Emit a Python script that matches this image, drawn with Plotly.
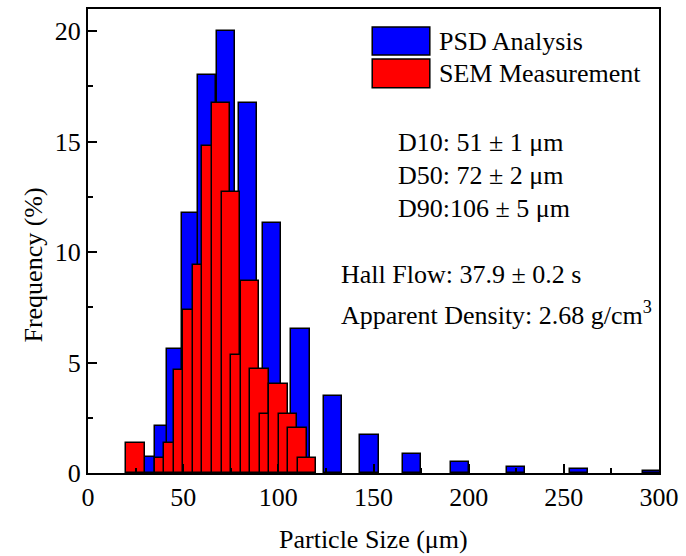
import plotly.graph_objects as go

# ---- data ----
psd_size = [34.3, 39.9, 46.4, 54.0, 62.6, 72.5, 84.0, 96.8, 111.6, 128.6,
            147.9, 170.1, 195.4, 224.8, 257.9, 296.5]
psd_freq = [0.72, 2.12, 5.63, 11.75, 18.0, 20.0, 16.75, 11.3, 6.53, 3.49,
            1.72, 0.86, 0.48, 0.28, 0.18, 0.10]

sem_size = [25, 40, 45, 50, 55, 60, 65, 70, 75, 80, 85, 90, 95, 100, 105, 110, 115]
sem_freq = [1.37, 0.66, 1.34, 4.68, 7.39, 9.42, 14.78, 16.76, 12.74, 5.36,
            8.71, 4.70, 2.69, 4.02, 2.69, 2.02, 0.66]

bin_width = 9.7

x_ticks = [0, 50, 100, 150, 200, 250, 300]
y_ticks = [0, 5, 10, 15, 20]

series_names = ["PSD Analysis", "SEM Measurement"]
stats_lines = ["D10: 51 ± 1 μm", "D50: 72 ± 2 μm", "D90:106 ± 5 μm"]
props_lines = ["Hall Flow: 37.9 ± 0.2 s", "Apparent Density: 2.68 g/cm<sup>3</sup>"]

FONT = "Liberation Serif"
FS = 26
BLUE = "#0000FF"
RED = "#FF0000"

fig = go.Figure()
fig.add_trace(go.Bar(x=psd_size, y=psd_freq, width=[bin_width] * len(psd_size),
                     marker=dict(color=BLUE, line=dict(color="black", width=1.5)),
                     name=series_names[0], showlegend=False))
fig.add_trace(go.Bar(x=sem_size, y=sem_freq, width=[bin_width] * len(sem_size),
                     marker=dict(color=RED, line=dict(color="black", width=1.5)),
                     name=series_names[1], showlegend=False))

axis_common = dict(
    showline=True, linecolor="black", linewidth=2, mirror=True,
    ticks="inside", ticklen=9, tickwidth=1.5, tickcolor="black",
    showgrid=False, zeroline=False,
    tickfont=dict(family=FONT, size=FS, color="black"),
)
fig.update_xaxes(range=[0, 300], tickvals=x_ticks,
                 minor=dict(dtick=25, ticks="inside", ticklen=5, tickwidth=1.5, tickcolor="black", showgrid=False),
                 **axis_common)
fig.update_yaxes(range=[0, 21], tickvals=y_ticks,
                 minor=dict(dtick=2.5, ticks="inside", ticklen=5, tickwidth=1.5, tickcolor="black", showgrid=False),
                 **axis_common)

L, R, T, B = 88, 20, 7, 83
W, H = 686, 556
pw, ph = W - L - R, H - T - B

def px(xp):
    return (xp - L) / pw

def py(yp):
    return (H - B - yp) / ph

shapes = []
annotations = []
# legend swatches (manual, large boxes as in the reference)
for (top, bot), col, name in zip([(25, 53.3), (57.3, 86)], [BLUE, RED], series_names):
    shapes.append(dict(type="rect", xref="paper", yref="paper",
                       x0=px(375.7), x1=px(434), y0=py(bot), y1=py(top),
                       fillcolor=col, line=dict(color="black", width=1.5)))
    annotations.append(dict(text=name, xref="paper", yref="paper",
                            x=px(441), y=py((top + bot) / 2), xanchor="left", yanchor="middle",
                            showarrow=False, font=dict(family=FONT, size=FS, color="black")))

for txt, yc in zip(stats_lines, [140.7, 174.3, 207.7]):
    annotations.append(dict(text=txt, xref="paper", yref="paper",
                            x=px(400), y=py(yc), xanchor="left", yanchor="middle",
                            showarrow=False, font=dict(family=FONT, size=FS, color="black")))
for txt, yc in zip(props_lines, [274, 313]):
    annotations.append(dict(text=txt, xref="paper", yref="paper",
                            x=px(342), y=py(yc), xanchor="left", yanchor="middle",
                            showarrow=False, font=dict(family=FONT, size=FS, color="black")))

# axis titles
annotations.append(dict(text="Particle Size (μm)", xref="paper", yref="paper",
                        x=px(377.5), y=py(540), xanchor="center", yanchor="middle",
                        showarrow=False, font=dict(family=FONT, size=FS, color="black")))
annotations.append(dict(text="Frequency (%)", xref="paper", yref="paper",
                        x=px(33), y=py(264), xanchor="center", yanchor="middle", textangle=-90,
                        showarrow=False, font=dict(family=FONT, size=FS, color="black")))

fig.update_layout(
    width=W, height=H,
    margin=dict(l=L, r=R, t=T, b=B, pad=0),
    barmode="overlay", bargap=0,
    plot_bgcolor="white", paper_bgcolor="white",
    shapes=shapes, annotations=annotations,
    showlegend=False,
)

fig.write_html("out.html", config={"displayModeBar": False},
               post_script="document.body.style.margin='0';document.body.style.overflow='hidden';")
